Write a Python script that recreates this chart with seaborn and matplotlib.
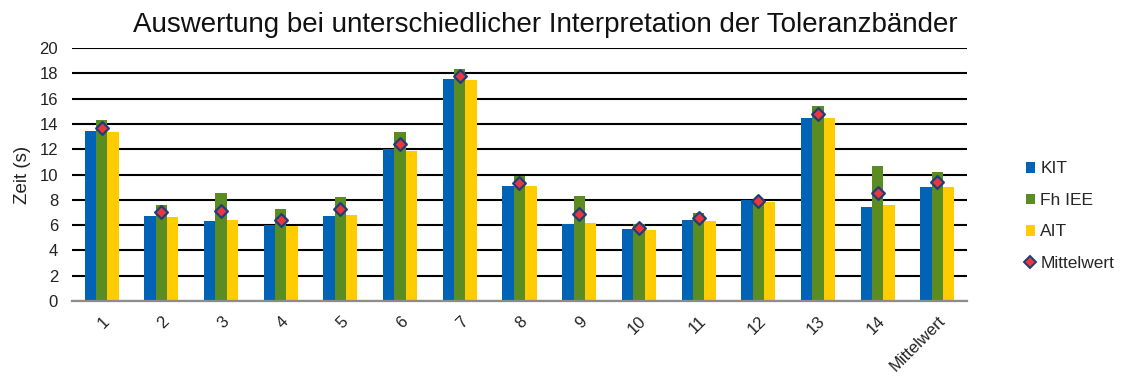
import matplotlib
matplotlib.use("Agg")
import matplotlib.pyplot as plt
from matplotlib.lines import Line2D
from matplotlib.patches import Patch
import seaborn as sns
import pandas as pd

categories = ["1", "2", "3", "4", "5", "6", "7", "8", "9", "10",
              "11", "12", "13", "14", "Mittelwert"]
kit = [13.46, 6.73, 6.36, 6.02, 6.73, 11.99, 17.58, 9.11, 6.05, 5.68,
       6.44, 7.97, 14.44, 7.44, 8.98]
fh_iee = [14.28, 7.58, 8.58, 7.26, 8.21, 13.38, 18.35, 9.90, 8.34, 6.10,
          6.92, 7.95, 15.44, 10.69, 10.19]
ait = [13.38, 6.68, 6.44, 5.94, 6.84, 11.85, 17.50, 9.06, 6.15, 5.60,
       6.31, 7.81, 14.44, 7.58, 8.98]
mittelwert = [13.71, 7.00, 7.13, 6.41, 7.26, 12.41, 17.81, 9.36, 6.85, 5.79,
              6.56, 7.91, 14.77, 8.57, 9.38]

series_names = ["KIT", "Fh IEE", "AIT"]
colors = {"KIT": "#0063B5", "Fh IEE": "#5B8C22", "AIT": "#FFCC00"}

bars = pd.DataFrame({
    "Kategorie": categories * 3,
    "Zeit": kit + fh_iee + ait,
    "Quelle": sum([[s] * len(categories) for s in series_names], []),
})
means = pd.DataFrame({"Kategorie": categories, "Zeit": mittelwert})

sns.set_theme(style="white")
plt.rcParams["font.family"] = ["Liberation Sans", "DejaVu Sans"]

fig = plt.figure(figsize=(11.23, 3.76), dpi=100)
ax = fig.add_axes([0.0641, 0.1995, 0.797, 0.6725])

sns.barplot(data=bars, x="Kategorie", y="Zeit", hue="Quelle",
            order=categories, hue_order=series_names, palette=colors,
            width=0.57, gap=0, saturation=1, linewidth=0, ax=ax, zorder=2,
            legend=False)
sns.stripplot(data=means, x="Kategorie", y="Zeit", order=categories,
              jitter=False, marker="D", size=6.5, color="#E8383D",
              edgecolor="#1F3D7A", linewidth=1.6, ax=ax, zorder=4)

ax.set_xlim(-0.5, len(categories) - 0.5)
ax.set_ylim(0, 20)
ax.set_yticks(range(0, 21, 2))
ax.yaxis.grid(True, color="black", linewidth=1.5, zorder=0)
ax.set_axisbelow(True)
for side in ["left", "right", "top"]:
    ax.spines[side].set_visible(False)
ax.spines["bottom"].set_color("#8C8C8C")
ax.spines["bottom"].set_linewidth(1.6)

ax.tick_params(axis="y", length=0, pad=10, labelsize=12, colors="#222222")
ax.tick_params(axis="x", length=0, pad=9, labelsize=12, colors="#222222")
for lbl in ax.get_xticklabels():
    lbl.set_rotation(45)
    lbl.set_ha("right")
    lbl.set_rotation_mode("anchor")

ax.set_xlabel("")
ax.set_ylabel("Zeit (s)", fontsize=13.5, color="#222222", labelpad=6)

fig.text(0.486, 0.933, "Auswertung bei unterschiedlicher Interpretation der Toleranzbänder",
         ha="center", va="center", fontsize=20, color="#111111")

handles = [Patch(facecolor=colors[s], edgecolor="none") for s in series_names]
handles.append(Line2D([], [], linestyle="none", marker="D", markersize=6,
                      markerfacecolor="#E8383D", markeredgecolor="#1F3D7A",
                      markeredgewidth=1.4))
fig.legend(handles, series_names + ["Mittelwert"], loc="center left",
           bbox_to_anchor=(0.907, 0.425), frameon=False, fontsize=12.5,
           handlelength=0.55, handleheight=0.55, handletextpad=0.3,
           labelspacing=0.95, borderaxespad=0)

fig.savefig("out.png", dpi=100)
